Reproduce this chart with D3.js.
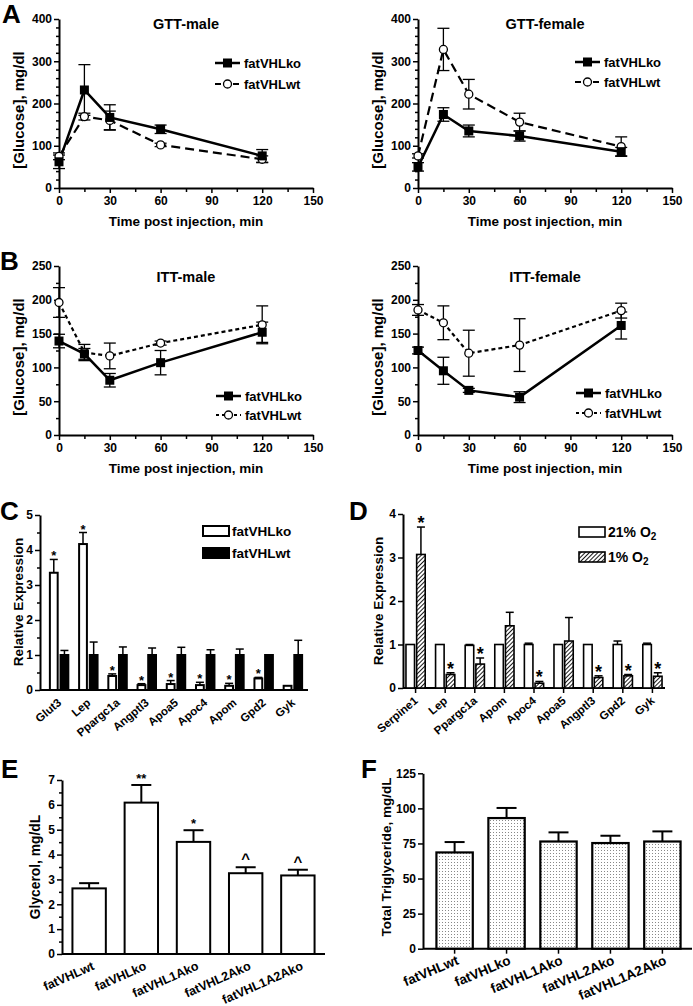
<!DOCTYPE html>
<html><head><meta charset="utf-8">
<script src="https://cdn.jsdelivr.net/npm/d3@7"></script>
<style>
body{margin:0;background:#fff}
text{font-family:'Liberation Sans',Arial,Helvetica,sans-serif;font-weight:bold;fill:#000}
</style>
</head><body><script>
const FONT = "'Liberation Sans', Arial, Helvetica, sans-serif";

// ---------------- DATA ----------------
const times = [0, 15, 30, 60, 120];
const timeTicks = [0, 30, 60, 90, 120, 150];
const timeMinorTicks = [15, 45, 75, 105, 135];
const gttTicks = [0, 100, 200, 300, 400];
const gttMinorTicks = [20, 40, 60, 80, 120, 140, 160, 180, 220, 240, 260, 280, 320, 340, 360, 380];
const ittTicks = [0, 50, 100, 150, 200, 250];
const ittMinorTicks = [25, 75, 125, 175, 225];
const seriesNames = ["fatVHLko", "fatVHLwt"];

const gttMaleKo = [62, 232, 167, 139, 76];
const gttMaleKoSem = [16, 60, 30, 10, 15];
const gttMaleWt = [75, 169, 160, 102, 68];
const gttMaleWtSem = [8, 8, 22, 4, 8];
const gttFemaleKo = [50, 174, 135, 123, 86];
const gttFemaleKoSem = [10, 16, 14, 12, 10];
const gttFemaleWt = [76, 328, 222, 156, 98];
const gttFemaleWtSem = [5, 50, 35, 21, 23];
const ittMaleKo = [139, 120, 81, 107, 152];
const ittMaleKoSem = [10, 8, 10, 18, 15];
const ittMaleWt = [196, 122, 117, 136, 163];
const ittMaleWtSem = [22, 12, 19, 3, 28];
const ittFemaleKo = [125, 95, 66, 56, 162];
const ittFemaleKoSem = [5, 20, 3, 8, 20];
const ittFemaleWt = [185, 166, 121, 133, 184];
const ittFemaleWtSem = [8, 25, 34, 39, 11];

const genesC = ["Glut3", "Lep", "Ppargc1a", "Angptl3", "Apoa5", "Apoc4", "Apom", "Gpd2", "Gyk"];
const exprKo = [3.35, 4.17, 0.40, 0.14, 0.17, 0.14, 0.12, 0.33, 0.12];
const exprKoErr = [0.38, 0.33, 0.06, 0.04, 0.10, 0.08, 0.07, 0.03, 0];
const exprKoStars = ["*", "*", "*", "*", "*", "*", "*", "*", ""];
const exprWt = [1, 1, 1, 1, 1, 1, 1, 1, 1];
const exprWtErr = [0.13, 0.37, 0.23, 0.20, 0.22, 0.15, 0.17, 0, 0.42];
const exprTicksC = [0, 1, 2, 3, 4, 5];
const exprMinorC = [0.5, 1.5, 2.5, 3.5, 4.5];

const genesD = ["Serpine1", "Lep", "Ppargc1a", "Apom", "Apoc4", "Apoa5", "Angptl3", "Gpd2", "Gyk"];
const normoxia = [1, 1, 0.98, 1, 1, 1, 1, 1, 1];
const normoxiaErr = [0, 0, 0.02, 0, 0.03, 0, 0, 0.08, 0.03];
const hypoxia = [3.07, 0.31, 0.55, 1.43, 0.11, 1.08, 0.24, 0.28, 0.27];
const hypoxiaErr = [0.63, 0.04, 0.14, 0.31, 0.04, 0.54, 0.04, 0.03, 0.08];
const hypoxiaStars = ["*", "*", "*", "", "*", "", "*", "*", "*"];
const exprTicksD = [0, 1, 2, 3, 4];

const genotypes = ["fatVHLwt", "fatVHLko", "fatVHL1Ako", "fatVHL2Ako", "fatVHL1A2Ako"];
const glycerol = [2.64, 6.09, 4.51, 3.25, 3.16];
const glycerolErr = [0.21, 0.71, 0.47, 0.24, 0.23];
const glycerolMarks = ["", "**", "*", "^", "^"];
const glycerolTicks = [0, 1, 2, 3, 4, 5, 6, 7];
const glycerolMinor = [0.5, 1.5, 2.5, 3.5, 4.5, 5.5, 6.5];
const triglyceride = [68.6, 93.1, 76.4, 75.3, 76.4];
const triglycerideErr = [7.4, 7.2, 6.5, 5.2, 7.2];
const trigTicks = [0, 25, 50, 75, 100, 125];

// ---------------- SETUP ----------------
const svg = d3.select("body").append("svg").attr("width", 693).attr("height", 1006);
const defs = svg.append("defs");
const hatch = defs.append("pattern").attr("id", "hatch").attr("patternUnits", "userSpaceOnUse")
  .attr("width", 3).attr("height", 3).attr("patternTransform", "rotate(45)");
hatch.append("rect").attr("width", 3).attr("height", 3).attr("fill", "#fff");
hatch.append("line").attr("x1", 0.5).attr("y1", 0).attr("x2", 0.5).attr("y2", 3).attr("stroke", "#000").attr("stroke-width", 0.9);
const dots = defs.append("pattern").attr("id", "dots").attr("patternUnits", "userSpaceOnUse")
  .attr("width", 3).attr("height", 3);
dots.append("rect").attr("width", 3).attr("height", 3).attr("fill", "#fff");
dots.append("rect").attr("x", 1).attr("y", 1).attr("width", 1).attr("height", 1).attr("fill", "#888");

function styleAxis(g, fs) {
  g.attr("font-family", FONT).attr("font-size", fs || 12).attr("font-weight", "bold");
  g.select(".domain").attr("stroke-width", 2);
  g.selectAll(".tick line").attr("stroke-width", 1.5);
}
function yAxis(scale, x, ticks, minor, fmt) {
  if (minor) {
    const m = svg.append("g").attr("transform", `translate(${x},0)`)
      .call(d3.axisLeft(scale).tickValues(minor).tickSize(3).tickFormat(""));
    m.select(".domain").remove();
    m.selectAll(".tick line").attr("stroke-width", 1.5);
  }
  const g = svg.append("g").attr("transform", `translate(${x},0)`)
    .call(d3.axisLeft(scale).tickValues(ticks).tickSize(5).tickSizeOuter(0).tickPadding(2).tickFormat(fmt || d3.format("d")));
  styleAxis(g);
  return g;
}
function letter(t, x, y) {
  svg.append("text").attr("x", x).attr("y", y).attr("font-size", 26).text(t);
}
function yLabel(t, x, y, fs) {
  svg.append("text").attr("transform", `translate(${x},${y}) rotate(-90)`).attr("dy", "0.35em")
    .attr("text-anchor", "middle").attr("font-size", fs).text(t);
}

// ---------------- LINE CHARTS ----------------
function lineChart(o) {
  const x = d3.scaleLinear().domain([0, 150]).range([o.x0, o.x1]);
  const y = d3.scaleLinear().domain([0, o.yMax]).range([o.yb, o.yt]);
  yAxis(y, o.x0, o.yTicks, o.yMinor);
  const mx = svg.append("g").attr("transform", `translate(0,${o.yb})`)
    .call(d3.axisBottom(x).tickValues(timeMinorTicks).tickSize(4).tickFormat(""));
  mx.select(".domain").remove();
  mx.selectAll(".tick line").attr("stroke-width", 1.5);
  const gx = svg.append("g").attr("transform", `translate(0,${o.yb})`)
    .call(d3.axisBottom(x).tickValues(timeTicks).tickSize(5).tickSizeOuter(0).tickPadding(3));
  styleAxis(gx);
  svg.append("text").attr("x", (o.x0 + o.x1) / 2).attr("y", o.yb + 38).attr("text-anchor", "middle")
    .attr("font-size", 13.5).text("Time post injection, min");
  svg.append("text").attr("x", (o.x0 + o.x1) / 2).attr("y", o.titleY).attr("text-anchor", "middle")
    .attr("font-size", 14.5).text(o.title);
  yLabel("[Glucose], mg/dl", o.ylx, o.yly, 15);

  const series = [
    { name: seriesNames[0], v: o.ko, e: o.koSem, ko: true },
    { name: seriesNames[1], v: o.wt, e: o.wtSem, ko: false }
  ];
  const line = d3.line().x((d, i) => x(times[i])).y(d => y(d));
  series.forEach(s => {
    const g = svg.append("g").attr("stroke", "#000").attr("stroke-width", 1.3);
    s.v.forEach((v, i) => {
      const cx = x(times[i]);
      g.append("line").attr("x1", cx).attr("x2", cx).attr("y1", y(v - s.e[i])).attr("y2", y(v + s.e[i]));
      [v - s.e[i], v + s.e[i]].forEach(vv => g.append("line").attr("x1", cx - 6).attr("x2", cx + 6).attr("y1", y(vv)).attr("y2", y(vv)));
    });
  });
  series.slice().reverse().forEach(s => {
    svg.append("path").datum(s.v).attr("d", line).attr("fill", "none").attr("stroke", "#000")
      .attr("stroke-width", s.ko ? 2.5 : 2.2).attr("stroke-dasharray", s.ko ? null : o.dash);
  });
  svg.append("g").selectAll("circle").data(o.wt).join("circle")
    .attr("cx", (d, i) => x(times[i])).attr("cy", d => y(d)).attr("r", 4)
    .attr("fill", "#fff").attr("stroke", "#000").attr("stroke-width", 1.3);
  svg.append("g").selectAll("rect").data(o.ko).join("rect")
    .attr("x", (d, i) => x(times[i]) - 4.5).attr("y", d => y(d) - 4.5).attr("width", 9).attr("height", 9).attr("fill", "#000");
  series.forEach((s, i) => {
    const ly = o.legY[i];
    svg.append("line").attr("x1", o.legX).attr("x2", o.legX + 25).attr("y1", ly).attr("y2", ly)
      .attr("stroke", "#000").attr("stroke-width", s.ko ? 2.5 : 2).attr("stroke-dasharray", s.ko ? null : o.legDash);
    if (s.ko) svg.append("rect").attr("x", o.legX + 8).attr("y", ly - 4.5).attr("width", 9).attr("height", 9).attr("fill", "#000");
    else svg.append("circle").attr("cx", o.legX + 12.5).attr("cy", ly).attr("r", 4).attr("fill", "#fff").attr("stroke", "#000").attr("stroke-width", 1.3);
    svg.append("text").attr("x", o.legX + 29).attr("y", ly).attr("dy", "0.36em").attr("font-size", 13).text(s.name);
  });
}

lineChart({ x0: 59, x1: 313, yb: 188, yt: 19, yMax: 400, yTicks: gttTicks, yMinor: gttMinorTicks,
  title: "GTT-male", titleY: 29, ylx: 19, yly: 110, ko: gttMaleKo, koSem: gttMaleKoSem, wt: gttMaleWt, wtSem: gttMaleWtSem,
  dash: "9,5", legDash: "6,3", legX: 215, legY: [63, 84] });
lineChart({ x0: 418, x1: 672, yb: 188, yt: 19, yMax: 400, yTicks: gttTicks, yMinor: gttMinorTicks,
  title: "GTT-female", titleY: 29, ylx: 378, yly: 110, ko: gttFemaleKo, koSem: gttFemaleKoSem, wt: gttFemaleWt, wtSem: gttFemaleWtSem,
  dash: "9,5", legDash: "6,3", legX: 575, legY: [62, 82] });
lineChart({ x0: 59, x1: 313, yb: 435, yt: 266, yMax: 250, yTicks: ittTicks, yMinor: ittMinorTicks,
  title: "ITT-male", titleY: 282, ylx: 19, yly: 357, ko: ittMaleKo, koSem: ittMaleKoSem, wt: ittMaleWt, wtSem: ittMaleWtSem,
  dash: "4,3", legDash: "3,3", legX: 216, legY: [396, 415] });
lineChart({ x0: 418, x1: 672, yb: 435, yt: 266, yMax: 250, yTicks: ittTicks, yMinor: ittMinorTicks,
  title: "ITT-female", titleY: 282, ylx: 378, yly: 357, ko: ittFemaleKo, koSem: ittFemaleKoSem, wt: ittFemaleWt, wtSem: ittFemaleWtSem,
  dash: "4,3", legDash: "3,3", legX: 576, legY: [393, 413] });
letter("A", 2, 23);
letter("B", 0, 270);

// ---------------- PANEL C ----------------
(function () {
  const x = d3.scaleBand().domain(genesC).range([44.5, 307.5]).paddingInner(0.3).paddingOuter(0.15);
  const xi = d3.scaleBand().domain(seriesNames).range([0, x.bandwidth()]).paddingInner(0.08);
  const y = d3.scaleLinear().domain([0, 5]).range([690, 515]);
  yAxis(y, 40, exprTicksC, exprMinorC);
  svg.append("line").attr("x1", 40).attr("x2", 308).attr("y1", y(0)).attr("y2", y(0)).attr("stroke", "#000").attr("stroke-width", 2);
  const bw = xi.bandwidth();
  genesC.forEach((gname, i) => {
    const kx = x(gname) + xi(seriesNames[0]);
    const wx = x(gname) + xi(seriesNames[1]);
    [[kx, exprKo[i], exprKoErr[i]], [wx, exprWt[i], exprWtErr[i]]].forEach(([bx, v, e]) => {
      if (e > 0) {
        const cx = bx + bw / 2;
        svg.append("line").attr("x1", cx).attr("x2", cx).attr("y1", y(v)).attr("y2", y(v + e)).attr("stroke", "#000").attr("stroke-width", 1.5);
        svg.append("line").attr("x1", cx - 4).attr("x2", cx + 4).attr("y1", y(v + e)).attr("y2", y(v + e)).attr("stroke", "#000").attr("stroke-width", 1.5);
      }
    });
    svg.append("rect").attr("x", kx + 1).attr("y", y(exprKo[i])).attr("width", bw - 2).attr("height", y(0) - y(exprKo[i]))
      .attr("fill", "#fff").attr("stroke", "#000").attr("stroke-width", 2);
    svg.append("rect").attr("x", wx).attr("y", y(exprWt[i]) - 1).attr("width", bw).attr("height", y(0) - y(exprWt[i]) + 1)
      .attr("fill", "#000");
    if (exprKoStars[i]) svg.append("text").attr("x", kx + bw / 2).attr("y", y(exprKo[i] + exprKoErr[i]) + 1)
      .attr("text-anchor", "middle").attr("font-size", 13).text(exprKoStars[i]);
    svg.append("text").attr("transform", `translate(${x(gname) + x.bandwidth() / 2 + 3},${y(0) + 14}) rotate(-40)`)
      .attr("text-anchor", "end").attr("font-size", 11.5).text(gname);
  });
  yLabel("Relative Expression", 18, 602, 13.5);
  const lg = [[526, "#fff"], [548, "#000"]];
  lg.forEach(([ly, f], i) => {
    svg.append("rect").attr("x", 203).attr("y", ly).attr("width", 26).attr("height", 10).attr("fill", f).attr("stroke", "#000").attr("stroke-width", 2);
    svg.append("text").attr("x", 232).attr("y", ly + 5).attr("dy", "0.36em").attr("font-size", 13.5).text(seriesNames[i]);
  });
  letter("C", 0, 520);
})();

// ---------------- PANEL D ----------------
(function () {
  const x = d3.scaleBand().domain(genesD).range([403, 665]).paddingInner(0.35).paddingOuter(0.1);
  const xi = d3.scaleBand().domain(["n", "h"]).range([0, x.bandwidth()]).paddingInner(0.2);
  const y = d3.scaleLinear().domain([0, 4]).range([688, 514]);
  yAxis(y, 403, exprTicksD, null);
  const gx = svg.append("g").attr("transform", `translate(0,${y(0)})`)
    .call(d3.axisBottom(x).tickSize(5).tickSizeOuter(0).tickFormat(""));
  styleAxis(gx);
  gx.select(".domain").attr("d", `M403,0H665`);
  const bw = xi.bandwidth();
  genesD.forEach((gname, i) => {
    const nx = x(gname) + xi("n");
    const hx = x(gname) + xi("h");
    [[nx, normoxia[i], normoxiaErr[i]], [hx, hypoxia[i], hypoxiaErr[i]]].forEach(([bx, v, e]) => {
      if (e > 0) {
        const cx = bx + bw / 2;
        svg.append("line").attr("x1", cx).attr("x2", cx).attr("y1", y(v)).attr("y2", y(v + e)).attr("stroke", "#000").attr("stroke-width", 1.5);
        svg.append("line").attr("x1", cx - 4).attr("x2", cx + 4).attr("y1", y(v + e)).attr("y2", y(v + e)).attr("stroke", "#000").attr("stroke-width", 1.5);
      }
    });
    svg.append("rect").attr("x", nx).attr("y", y(normoxia[i])).attr("width", bw).attr("height", y(0) - y(normoxia[i]))
      .attr("fill", "#fff").attr("stroke", "#000").attr("stroke-width", 1.6);
    svg.append("rect").attr("x", hx).attr("y", y(hypoxia[i])).attr("width", bw).attr("height", y(0) - y(hypoxia[i]))
      .attr("fill", "url(#hatch)").attr("stroke", "#000").attr("stroke-width", 1.6);
    if (hypoxiaStars[i]) svg.append("text").attr("x", hx + bw / 2).attr("y", y(hypoxia[i] + hypoxiaErr[i]) + 2)
      .attr("text-anchor", "middle").attr("font-size", 18).text(hypoxiaStars[i]);
    svg.append("text").attr("transform", `translate(${x(gname) + x.bandwidth() / 2 + 3},${y(0) + 14}) rotate(-40)`)
      .attr("text-anchor", "end").attr("font-size", 11.5).text(gname);
  });
  yLabel("Relative Expression", 378, 601, 13.5);
  const lg = [[527, "#fff", "21% O"], [552, "url(#hatch)", "1% O"]];
  lg.forEach(([ly, f, t]) => {
    svg.append("rect").attr("x", 579).attr("y", ly).attr("width", 26).attr("height", 10).attr("fill", f).attr("stroke", "#000").attr("stroke-width", 1.6);
    const tx = svg.append("text").attr("x", 608).attr("y", ly + 5).attr("dy", "0.36em").attr("font-size", 14).text(t);
    tx.append("tspan").attr("font-size", 10).attr("dy", "0.3em").text("2");
  });
  letter("D", 349, 520);
})();

// ---------------- PANEL E ----------------
(function () {
  const x = d3.scaleBand().domain(genotypes).range([62, 325]).paddingInner(0.36).paddingOuter(0.2);
  const y = d3.scaleLinear().domain([0, 7]).range([954, 780]);
  yAxis(y, 62, glycerolTicks, glycerolMinor);
  svg.append("line").attr("x1", 62).attr("x2", 325).attr("y1", y(0)).attr("y2", y(0)).attr("stroke", "#000").attr("stroke-width", 2);
  const bw = x.bandwidth();
  genotypes.forEach((gname, i) => {
    const cx = x(gname) + bw / 2;
    const top = y(glycerol[i] + glycerolErr[i]);
    svg.append("line").attr("x1", cx).attr("x2", cx).attr("y1", y(glycerol[i])).attr("y2", top).attr("stroke", "#000").attr("stroke-width", 2);
    svg.append("line").attr("x1", cx - 10).attr("x2", cx + 10).attr("y1", top).attr("y2", top).attr("stroke", "#000").attr("stroke-width", 2);
    svg.append("rect").attr("x", x(gname)).attr("y", y(glycerol[i])).attr("width", bw).attr("height", y(0) - y(glycerol[i]))
      .attr("fill", "#fff").attr("stroke", "#000").attr("stroke-width", 2);
    if (glycerolMarks[i]) {
      const caret = glycerolMarks[i] === "^";
      svg.append("text").attr("x", cx).attr("y", caret ? top - 3 : top - 2).attr("text-anchor", "middle")
        .attr("font-size", caret ? 15 : 13).text(glycerolMarks[i]);
    }
    svg.append("text").attr("transform", `translate(${cx + 6},${y(0) + 15}) rotate(-24)`)
      .attr("text-anchor", "end").attr("font-size", 12.5).text(gname);
  });
  yLabel("Glycerol, mg/dL", 35, 867, 13.8);
  letter("E", 1, 778);
})();

// ---------------- PANEL F ----------------
(function () {
  const x = d3.scaleBand().domain(genotypes).range([425, 692]).paddingInner(0.3).paddingOuter(0.22);
  const y = d3.scaleLinear().domain([0, 125]).range([948.7, 773.3]);
  yAxis(y, 423, trigTicks, null);
  const gx = svg.append("g").attr("transform", `translate(0,${y(0)})`)
    .call(d3.axisBottom(x).tickSize(5).tickSizeOuter(0).tickFormat(""));
  styleAxis(gx);
  gx.select(".domain").attr("d", `M423,0H692`);
  const bw = x.bandwidth();
  genotypes.forEach((gname, i) => {
    const cx = x(gname) + bw / 2;
    const top = y(triglyceride[i] + triglycerideErr[i]);
    svg.append("line").attr("x1", cx).attr("x2", cx).attr("y1", y(triglyceride[i])).attr("y2", top).attr("stroke", "#000").attr("stroke-width", 2);
    svg.append("line").attr("x1", cx - 10).attr("x2", cx + 10).attr("y1", top).attr("y2", top).attr("stroke", "#000").attr("stroke-width", 2);
    svg.append("rect").attr("x", x(gname)).attr("y", y(triglyceride[i])).attr("width", bw).attr("height", y(0) - y(triglyceride[i]))
      .attr("fill", "url(#dots)").attr("stroke", "#000").attr("stroke-width", 2.2);
    svg.append("text").attr("transform", `translate(${cx + 5},${y(0) + 15}) rotate(-23)`)
      .attr("text-anchor", "end").attr("font-size", 13.5).text(gname);
  });
  yLabel("Total Triglyceride, mg/dL", 386, 857, 13.5);
  letter("F", 361, 778);
})();
</script></body></html>
